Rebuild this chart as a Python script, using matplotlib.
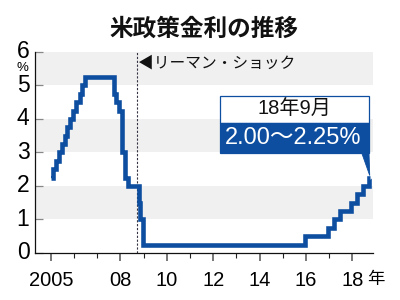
import matplotlib
matplotlib.use("Agg")
import matplotlib.pyplot as plt
from matplotlib.patches import Rectangle, Polygon
import matplotlib.transforms as mtransforms

plt.rcParams['font.family'] = ['Liberation Sans', 'Noto Sans CJK JP', 'DejaVu Sans']

# Policy rate changes (decimal year, upper bound %)
dates = [2005.00, 2005.09, 2005.22, 2005.34, 2005.49, 2005.60, 2005.72, 2005.83,
         2005.95, 2006.08, 2006.24, 2006.36, 2006.49, 2007.71, 2007.83, 2007.94,
         2008.06, 2008.08, 2008.21, 2008.33, 2008.80, 2008.85, 2008.96, 2015.96,
         2016.95, 2017.20, 2017.45, 2017.95, 2018.22, 2018.45, 2018.74, 2018.78]
rates = [2.25, 2.50, 2.75, 3.00, 3.25, 3.50, 3.75, 4.00,
         4.25, 4.50, 4.75, 5.00, 5.25, 4.75, 4.50, 4.25,
         3.50, 3.00, 2.25, 2.00, 1.50, 1.00, 0.25, 0.50,
         0.75, 1.00, 1.25, 1.50, 1.75, 2.00, 2.25, 2.25]

major_years = [2005, 2008, 2010, 2012, 2014, 2016, 2018]
major_labels = ['2005', '08', '10', '12', '14', '16', '18']
minor_years = [2006, 2007, 2009, 2011, 2013, 2015, 2017]
y_ticks = [0, 1, 2, 3, 4, 5, 6]
lehman_date = 2008.70

title = '米政策金利の推移'
lehman_label = '◀リーマン・ショック'
box_top_label = '18年9月'
box_bottom_label = '2.00～2.25%'

line_color = '#0d4ea0'
band_color = '#f0f0f0'

fig = plt.figure(figsize=(4, 3), dpi=100)
ax = fig.add_axes([0.0875, 0.157, 0.8443, 0.67])
ax.set_xlim(2004.32, 2018.88)
ax.set_ylim(0, 6)

for lo in (1, 3, 5):
    ax.axhspan(lo, lo + 1, color=band_color, lw=0, zorder=0)

ax.axvline(lehman_date, ymin=0, ymax=1, color='#333344', lw=0.8,
           linestyle=(0, (2, 1.5)), zorder=1)
ax.text(lehman_date + 0.06, 5.67, lehman_label, fontsize=11.3,
        family=['Noto Sans CJK JP', 'DejaVu Sans'], va='center', ha='left',
        color='#111111')

ax.step(dates, rates, where='post', color=line_color, lw=3.3,
        solid_joinstyle='miter', solid_capstyle='butt', zorder=3)

for s in ('top', 'right'):
    ax.spines[s].set_visible(False)
for s in ('left', 'bottom'):
    ax.spines[s].set_linewidth(0.9)
    ax.spines[s].set_color('#111111')

ax.set_xticks(major_years)
ax.set_xticklabels(major_labels, fontsize=14.5)
ax.set_xticks(minor_years, minor=True)
ax.tick_params(axis='x', which='major', direction='out', length=6, width=1.4,
               color='#777777', pad=7)
ax.tick_params(axis='x', which='minor', direction='out', length=3.5, width=0.8,
               color='#222222')

ax.set_yticks(y_ticks)
ax.set_yticklabels([str(v) for v in y_ticks], fontsize=16.5, va='center')
ax.tick_params(axis='y', which='major', direction='in', length=6, width=0.9,
               color='#888888', pad=4)

# 年 after the last year label
ax.text(2018.66, -0.52, '年', transform=ax.transData, fontsize=12.5,
        family=['Noto Sans CJK JP'], ha='left', va='top', clip_on=False)

# % under 6
ax.text(-0.038, 5.53, '%', transform=mtransforms.blended_transform_factory(ax.transAxes, ax.transData),
        fontsize=9.5, ha='center', va='center', clip_on=False)

# annotation box (axes fraction)
bx0, bx1 = 0.548, 0.989
by_top, by_mid, by_bot = 0.781, 0.648, 0.4975
ax.add_patch(Rectangle((bx0, by_mid), bx1 - bx0, by_top - by_mid, transform=ax.transAxes,
                       facecolor='white', edgecolor=line_color, lw=0.9, zorder=5))
ax.add_patch(Rectangle((bx0, by_bot), bx1 - bx0, by_mid - by_bot, transform=ax.transAxes,
                       facecolor=line_color, edgecolor=line_color, lw=0.9, zorder=5))
ax.text((bx0 + bx1) / 2, (by_top + by_mid) / 2, box_top_label, transform=ax.transAxes,
        fontsize=14.5, ha='center', va='center', color='#111111', zorder=6)
ax.text((bx0 + bx1) / 2 - 0.003, (by_mid + by_bot) / 2, box_bottom_label, transform=ax.transAxes,
        fontsize=17, ha='center', va='center', color='white', zorder=6)

# pointer to the latest value
tip = ax.transAxes.inverted().transform(ax.transData.transform((dates[-1], rates[-1])))
ax.add_patch(Polygon([(bx1 - 0.022, by_bot + 0.002), (bx1, by_bot + 0.002), (tip[0] - 0.002, tip[1] + 0.01)],
                     closed=True, transform=ax.transAxes, facecolor=line_color,
                     edgecolor=line_color, lw=0.6, zorder=4))

fig.text(0.51, 0.903, title, fontsize=17, fontweight='bold',
         family=['Noto Sans CJK JP'], ha='center', va='center', color='#111111')

fig.savefig('out.png', dpi=100)
